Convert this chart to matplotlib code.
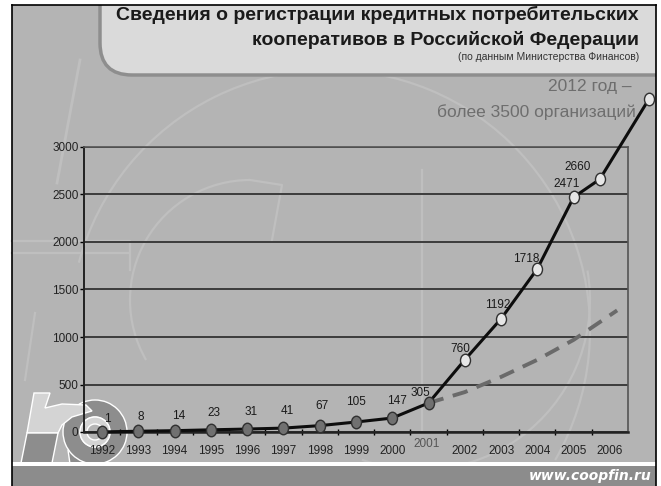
import matplotlib.pyplot as plt
import matplotlib.transforms as mtransforms
from matplotlib.patches import FancyBboxPatch, Rectangle, Polygon, Wedge, Arc
from matplotlib.path import Path

plt.rcParams['font.family'] = ['Liberation Sans', 'DejaVu Sans']

years = ['1992', '1993', '1994', '1995', '1996', '1997', '1998',
         '1999', '2000', '2001', '2002', '2003', '2004', '2005', '2006']
counts = [1, 8, 14, 23, 31, 41, 67, 105, 147, 305, 760, 1192, 1718, 2471]
# points past 2005: the 2660 mark and the 2012 estimate
late_pos = [13.72, 15.07]
late_counts = [2660, 3500]
# dashed projection line from 2001
trend_pos = [9, 10, 11, 12, 13, 14.2]
trend_counts = [305, 420, 580, 760, 970, 1280]
# label offsets in pixels (dx, dy) for every marked value
label_offsets = [(5, 13), (2, 14), (4, 15), (3, 17), (4, 17), (4, 17), (2, 20),
                 (0, 20), (5, 17), (-8, 10), (-5, 11), (-3, 14), (-11, 10),
                 (-7, 13), (-22, 12)]

W, H = 661, 486
fig = plt.figure(figsize=(W / 100, H / 100), dpi=100)
fig.patch.set_facecolor('white')

# slide background in pixel coordinates
bg = fig.add_axes([0, 0, 1, 1], zorder=0)
bg.set_xlim(0, W)
bg.set_ylim(H, 0)
bg.axis('off')

slide = Rectangle((12, 5), 644, 460, facecolor='#b4b4b4', edgecolor='none')
bg.add_patch(slide)

# faint watermark strokes
faint = '#bfbfbf'
for arc in [Arc((330, 330), 520, 520, theta1=195, theta2=30),
            Arc((250, 300), 240, 240, theta1=150, theta2=270),
            Arc((420, 300), 340, 340, theta1=-10, theta2=110)]:
    arc.set_edgecolor(faint)
    arc.set_linewidth(1.6)
    arc.set_clip_path(slide)
    bg.add_patch(arc)
bg.plot([250, 282, 272], [180, 185, 240], color=faint, lw=1.6)
bg.plot([422, 422], [170, 432], color=faint, lw=1.6)
bg.plot([80, 57], [60, 183], color=faint, lw=2)
bg.plot([12, 130, 130], [241, 241, 270], color=faint, lw=1.6)
bg.plot([12, 128], [253, 253], color=faint, lw=1.6)
bg.plot([35, 25], [313, 380], color=faint, lw=1.6)

# title panel with rounded corner
panel = FancyBboxPatch((100, -60), 620, 135,
                       boxstyle='round,pad=0,rounding_size=32',
                       facecolor='#dadada', edgecolor='#8e8e8e', lw=2.5)
bg.add_patch(panel)
panel.set_clip_path(slide)

# logo in the lower left corner
dark, light = '#8d8d8d', '#d4d4d4'
bg.add_patch(Polygon([(68, 450), (88, 448), (90, 478), (72, 478)],
                     facecolor=dark, edgecolor='white', lw=1))
bg.add_patch(Wedge((95, 432), 32, 0, 360, width=17, facecolor=dark,
                   edgecolor='white', lw=1))
bg.add_patch(Wedge((95, 432), 15, 0, 360, width=7, facecolor=light,
                   edgecolor='white', lw=1))
bg.add_patch(Polygon([(34, 393), (50, 393), (45, 408), (62, 404), (86, 405),
                      (92, 411), (72, 417), (62, 425), (58, 433), (27, 433)],
                     facecolor=light, edgecolor='white', lw=1))
bg.add_patch(Polygon([(27, 433), (58, 433), (52, 463), (21, 463)],
                     facecolor=dark, edgecolor='white', lw=1))

# bottom band
bg.add_patch(Rectangle((12, 462), 644, 4, facecolor='white', edgecolor='none'))
bg.add_patch(Rectangle((12, 466), 644, 20, facecolor='#8c8c8c', edgecolor='none'))
bg.text(652, 476, 'www.coopfin.ru', color='white', fontsize=10,
        fontweight='bold', fontstyle='italic', family='DejaVu Sans',
        ha='right', va='center')

# frame lines
bg.plot([12, 12], [5, H], color='black', lw=1.2)
bg.plot([656, 656], [5, H], color='black', lw=1.2)
bg.plot([12, 656], [5, 5], color='black', lw=1.2)

bg.text(639, 15, 'Сведения о регистрации кредитных потребительских',
        fontsize=14, fontweight='bold', color='#1a1a1a', ha='right', va='center')
bg.text(639, 40, 'кооперативов в Российской Федерации',
        fontsize=14, fontweight='bold', color='#1a1a1a', ha='right', va='center')
bg.text(639, 57, '(по данным Министерства Финансов)',
        fontsize=7.5, color='#333333', ha='right', va='center')

bg.text(632, 86, '2012 год –', fontsize=12.5, color='#6e6e6e',
        ha='right', va='center')
bg.text(636, 112, 'более 3500 организаций', fontsize=12.5, color='#6e6e6e',
        ha='right', va='center')

# chart
ax = fig.add_axes([84 / W, 1 - 432 / H, (628 - 84) / W, (432 - 147) / H], zorder=1)
ax.set_facecolor('none')
ax.set_xlim(-0.5, 14.5)
ax.set_ylim(0, 3000)

ax.set_yticks(range(0, 3001, 500))
ax.grid(axis='y', color='#3c3c3c', lw=1.4)
ax.set_axisbelow(True)
ax.tick_params(axis='y', length=3, width=1, labelsize=8.5, pad=1,
               labelcolor='#222222')

ax.set_xticks(range(len(years)))
ax.set_xticklabels(years)
ax.set_xticks([i + 0.5 for i in range(len(years) - 1)], minor=True)
ax.tick_params(axis='x', which='major', length=0, labelsize=8.5, pad=9,
               labelcolor='#222222')
ax.tick_params(axis='x', which='minor', length=4, width=1, direction='inout')
lab2001 = ax.get_xticklabels()[9]
lab2001.set_color('#555555')
lab2001.set_transform(lab2001.get_transform() +
                      mtransforms.ScaledTranslation(-0.02, 5 / 72, fig.dpi_scale_trans))

ax.spines['left'].set_color('#222222')
ax.spines['left'].set_linewidth(1.4)
ax.spines['bottom'].set_color('#222222')
ax.spines['bottom'].set_linewidth(1.8)
ax.spines['right'].set_color('#555555')
ax.spines['right'].set_linewidth(1.2)
ax.spines['top'].set_color('#555555')
ax.spines['top'].set_linewidth(1.2)

ax.plot(trend_pos, trend_counts, color='#6a6a6a', lw=2.8,
        dashes=(4, 2.5), zorder=2)

xs = list(range(len(counts))) + late_pos
ys = counts + late_counts
ax.plot(xs, ys, color='#0d0d0d', lw=2.2, zorder=3, clip_on=False)

ellipse = Path.unit_circle().transformed(mtransforms.Affine2D().scale(0.8, 1))
ax.plot(xs[:10], ys[:10], ls='none', marker=ellipse, ms=9,
        mfc='#707070', mec='#303030', mew=1, zorder=4, clip_on=False)
ax.plot(xs[10:], ys[10:], ls='none', marker=ellipse, ms=9,
        mfc='#e6e6e6', mec='#303030', mew=1, zorder=4, clip_on=False)

for x, y, (dx, dy) in zip(xs[:-1], ys[:-1], label_offsets):
    ax.annotate(str(y), (x, y), xytext=(dx, dy), textcoords='offset pixels',
                ha='center', va='center', fontsize=8.5, color='#1a1a1a',
                zorder=5, annotation_clip=False)

fig.savefig('out.png', dpi=100)
